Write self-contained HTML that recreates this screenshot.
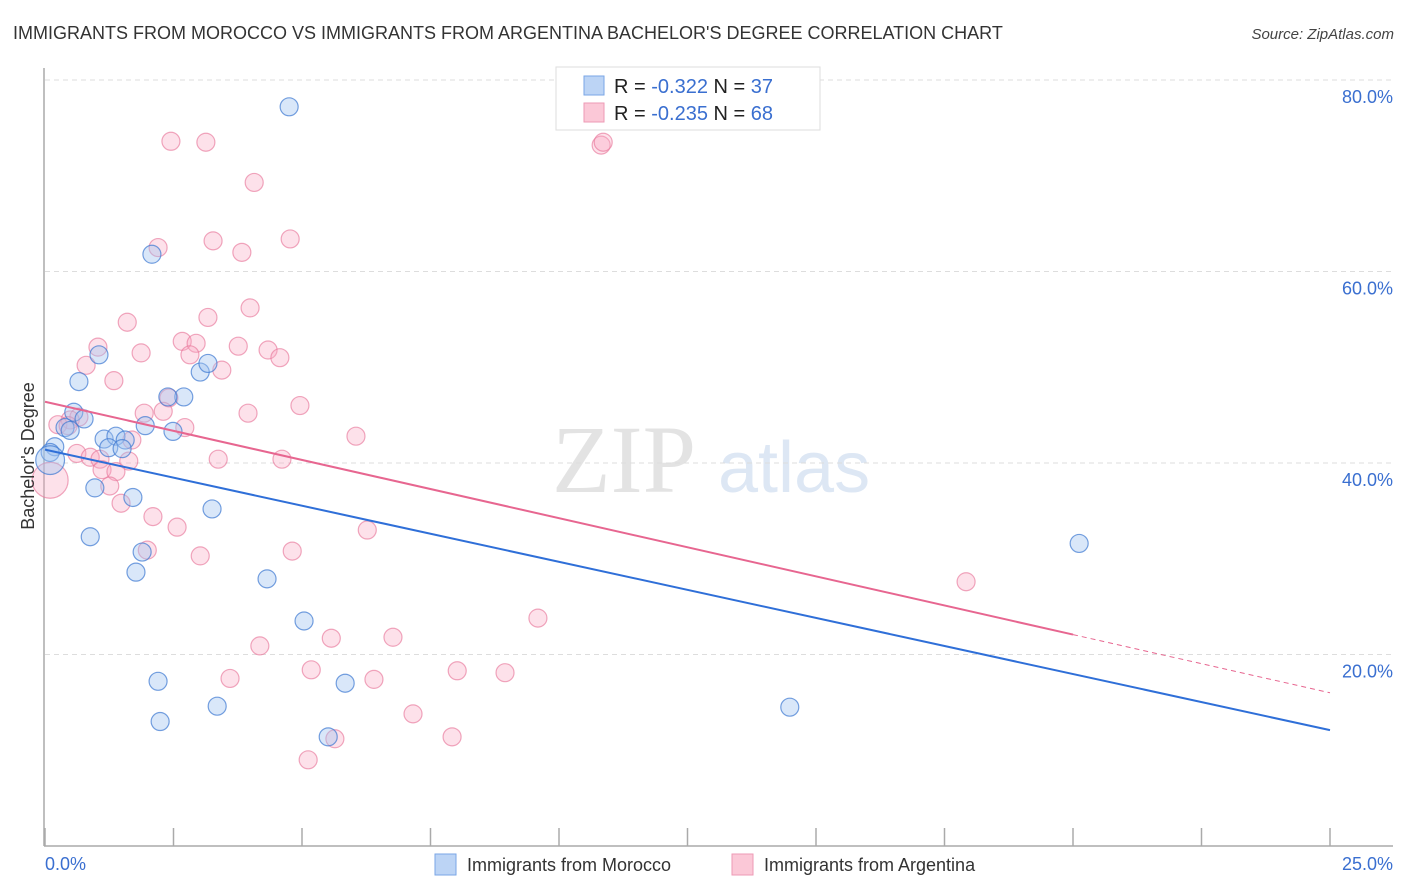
<!DOCTYPE html>
<html><head><meta charset="utf-8"><style>
body{margin:0;background:#fff;font-family:"Liberation Sans",sans-serif;}
svg{display:block}
</style></head><body>
<svg id="chart" width="1406" height="892" xmlns="http://www.w3.org/2000/svg">
<text x="13" y="39" font-size="18" fill="#333">IMMIGRANTS FROM MOROCCO VS IMMIGRANTS FROM ARGENTINA BACHELOR'S DEGREE CORRELATION CHART</text>
<text x="1394" y="39" font-size="15" fill="#444" font-style="italic" text-anchor="end">Source: ZipAtlas.com</text>
<g>
<text x="552" y="492" font-size="96" fill="#ddd" font-family="Liberation Serif,serif" opacity="0.8">ZIP</text>
<text x="718" y="492" font-size="72" fill="#c8d8ee" opacity="0.6">atlas</text>
</g>
<g id="grid"></g>
<g id="axes"></g>
<g id="points"></g>
<g id="lines"></g>
<text transform="translate(34,456) rotate(-90)" font-size="18" fill="#333" text-anchor="middle">Bachelor's Degree</text>
<text x="45" y="870" font-size="18" fill="#3a6fd0">0.0%</text>
<text x="1393" y="870" font-size="18" fill="#3a6fd0" text-anchor="end">25.0%</text>
<g>
<rect x="556" y="67" width="264" height="63" fill="#fff" stroke="#ddd"/>
<rect x="584" y="76" width="20" height="19" fill="#bcd4f5" stroke="#7aa6e6"/>
<rect x="584" y="103" width="20" height="19" fill="#fbc8d7" stroke="#ee9ab4"/>
<text x="614" y="93" font-size="20" fill="#222">R = <tspan fill="#3a6fd0">-0.322</tspan>   N = <tspan fill="#3a6fd0">37</tspan></text>
<text x="614" y="120" font-size="20" fill="#222">R = <tspan fill="#3a6fd0">-0.235</tspan>   N = <tspan fill="#3a6fd0">68</tspan></text>
</g>
<g>
<rect x="435" y="854" width="21" height="21" fill="#bcd4f5" stroke="#7aa6e6"/>
<text x="467" y="871" font-size="18" fill="#333">Immigrants from Morocco</text>
<rect x="732" y="854" width="21" height="21" fill="#fbc8d7" stroke="#ee9ab4"/>
<text x="764" y="871" font-size="18" fill="#333">Immigrants from Argentina</text>
</g>
</svg>
<script>
const yTicks=[20,40,60,80];
const yTickLabels=["20.0%","40.0%","60.0%","80.0%"];
const xTicks=[0,2.5,5,7.5,10,12.5,15,17.5,20,22.5,25];
const moroccoX=[4.75,2.08,1.05,0.66,3.02,3.17,2.70,2.39,0.56,0.76,0.39,0.49,1.95,2.49,1.15,1.38,1.56,1.24,1.50,0.19,0.10,0.10,0.97,1.71,3.25,0.88,1.89,1.77,4.32,5.04,20.12,2.20,5.84,3.35,2.24,5.51,14.49];
const moroccoY=[77.2,61.8,51.3,48.5,49.5,50.4,46.9,46.9,45.3,44.6,43.7,43.4,43.9,43.3,42.5,42.8,42.4,41.6,41.5,41.7,41.1,40.3,37.4,36.4,35.2,32.3,30.7,28.6,27.9,23.5,31.6,17.2,17.0,14.6,13.0,11.4,14.5];
const moroccoSize=[1,1,1,1,1,1,1,1,1,1,1,1,1,1,1,1,1,1,1,1,1,1.6,1,1,1,1,1,1,1,1,1,1,1,1,1,1,1];
const argX=[2.45,3.13,10.82,10.86,4.07,2.20,3.27,3.83,4.77,3.99,1.60,3.17,1.03,1.87,2.67,2.94,3.76,4.34,4.57,2.82,0.80,3.44,1.34,2.41,4.96,2.30,1.93,3.95,0.66,0.49,0.25,0.45,2.72,6.05,1.69,0.62,0.88,1.07,1.63,3.37,4.61,1.11,1.38,1.26,0.10,1.48,2.10,2.57,6.27,1.99,3.02,4.81,17.92,9.59,5.57,6.77,4.18,5.18,8.02,8.95,3.60,6.40,7.16,7.92,5.64,5.12];
const argY=[73.6,73.5,73.2,73.5,69.3,62.5,63.2,62.0,63.4,56.2,54.7,55.2,52.1,51.5,52.7,52.5,52.2,51.8,51.0,51.3,50.2,49.7,48.6,46.8,46.0,45.4,45.2,45.2,44.8,44.5,44.0,43.9,43.7,42.8,42.4,41.0,40.6,40.4,40.2,40.4,40.4,39.3,39.1,37.6,38.2,35.8,34.4,33.3,33.0,30.9,30.3,30.8,27.6,23.8,21.7,21.8,20.9,18.4,18.3,18.1,17.5,17.4,13.8,11.4,11.2,9.0];
const argSize=argX.map((v,i)=>i===44?2:1);
const trendMorocco=[41.4,12.1]; // y at x=0 and x=25
const trendArg=[46.4,16.0];
const argSolidEnd=20;

const NS="http://www.w3.org/2000/svg";
const X0=45,X1=1330,Y0=846,YPER=191.5/20;
const xs=v=>X0+v/25*(X1-X0);
const ys=v=>Y0-v*YPER;
function mk(tag,attrs,parent){const e=document.createElementNS(NS,tag);for(const k in attrs)e.setAttribute(k,attrs[k]);parent.appendChild(e);return e;}
const grid=document.getElementById('grid'),axes=document.getElementById('axes'),pts=document.getElementById('points'),lines=document.getElementById('lines');
yTicks.forEach((t,i)=>{
 const l=mk('line',{x1:X0,x2:1393,y1:ys(t),y2:ys(t),stroke:'#ddd','stroke-dasharray':'5,4'},grid);
 
 
 const tx=mk('text',{x:1393,y:ys(t)+23,'font-size':18,fill:'#3a6fd0','text-anchor':'end'},grid);
 tx.textContent=yTickLabels[i];
 
 
});
const ya=mk('line',{x1:44,x2:44,y1:68,y2:Y0,stroke:'#aaa','stroke-width':1.5},axes);


const xa=mk('line',{x1:44,x2:1393,y1:Y0,y2:Y0,stroke:'#aaa','stroke-width':1.5},axes);


xTicks.forEach(t=>{
 const l=mk('line',{x1:xs(t),x2:xs(t),y1:828,y2:Y0,stroke:'#aaa','stroke-width':1.5},axes);
 
 
});
argX.forEach((v,i)=>{
 const c=mk('circle',{cx:xs(v),cy:ys(argY[i]),r:9*argSize[i],fill:'rgba(248,170,195,0.35)',stroke:'rgba(232,120,155,0.65)','stroke-width':1.2},pts);
 
 
});
moroccoX.forEach((v,i)=>{
 const c=mk('circle',{cx:xs(v),cy:ys(moroccoY[i]),r:9*moroccoSize[i],fill:'rgba(160,195,240,0.4)',stroke:'rgba(60,120,210,0.7)','stroke-width':1.2},pts);
 
 
});
const mb=mk('line',{x1:xs(0),y1:ys(trendMorocco[0]),x2:xs(25),y2:ys(trendMorocco[1]),stroke:'#2f6fd8','stroke-width':2},lines);


const aAt=x=>trendArg[0]+(trendArg[1]-trendArg[0])*x/25;
const pa=mk('line',{x1:xs(0),y1:ys(aAt(0)),x2:xs(argSolidEnd),y2:ys(aAt(argSolidEnd)),stroke:'#e76690','stroke-width':2},lines);


const pd=mk('line',{x1:xs(argSolidEnd),y1:ys(aAt(argSolidEnd)),x2:xs(25),y2:ys(aAt(25)),stroke:'#e76690','stroke-width':1,'stroke-dasharray':'5,4'},lines);


</script>
</body></html>
